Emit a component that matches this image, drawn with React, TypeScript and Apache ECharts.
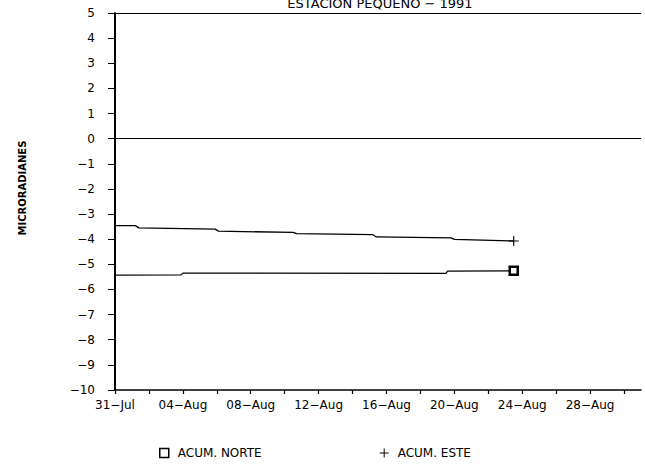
import React, { useEffect, useRef } from "react";
import * as echarts from "echarts";

// Days counted from 31 Jul 1991 (day 0) and accumulated tilt in microradians
const esteDays = [0, 1.2, 1.4, 5.9, 6.1, 10.5, 10.7, 15.2, 15.4, 19.8, 20.0, 23.5];
const esteValues = [-3.46, -3.46, -3.55, -3.6, -3.68, -3.73, -3.78, -3.82, -3.91, -3.95, -4.01, -4.07];

const norteDays = [0, 3.9, 4.0, 19.5, 19.6, 23.5];
const norteValues = [-5.43, -5.42, -5.35, -5.36, -5.27, -5.26];

const yTicks = { min: -10, max: 5, step: 1 };
const xTicks = { min: 0, max: 31, step: 2, labelEvery: 4 };

const titleText = "ESTACION PEQUENO \u2212 1991";
const yName = "MICRORADIANES";
const seriesNames = ["ACUM. NORTE", "ACUM. ESTE"];
const monthNames = ["Jan", "Feb", "Mar", "Apr", "May", "Jun", "Jul", "Aug", "Sep", "Oct", "Nov", "Dec"];

const FONT = "DejaVu Sans";
const PLUS =
  "path://M4,0 L5,0 L5,4 L9,4 L9,5 L5,5 L5,9 L4,9 L4,5 L0,5 L0,4 L4,4 Z";

function dayLabel(v: number): string {
  if (v % xTicks.labelEvery !== 0) return "";
  const d = new Date(Date.UTC(1991, 6, 31 + v));
  const dd = String(d.getUTCDate()).padStart(2, "0");
  return dd + "\u2212" + monthNames[d.getUTCMonth()];
}

function withEndMarker(days: number[], vals: number[], marker: any) {
  return days.map((d, i) =>
    i === days.length - 1 ? { value: [d, vals[i]], ...marker } : { value: [d, vals[i]] }
  );
}

export default function App() {
  const ref = useRef<HTMLDivElement>(null);

  useEffect(() => {
    if (!ref.current) return;
    const chart = echarts.init(ref.current, null, { renderer: "svg" });

    const norteData = withEndMarker(norteDays, norteValues, {
      symbol: "rect",
      symbolSize: 8,
      itemStyle: { color: "#fff", borderColor: "#000", borderWidth: 2.5 },
    });
    const esteData = withEndMarker(esteDays, esteValues, {
      symbol: PLUS,
      symbolSize: 10,
      itemStyle: { color: "#000" },
    });

    chart.setOption({
      animation: false,
      backgroundColor: "#fff",
      textStyle: { fontFamily: FONT, color: "#000" },
      grid: { left: 115, right: 4, top: 13, bottom: 75 },
      graphic: [
        {
          type: "text",
          x: 380,
          y: 3,
          style: {
            text: titleText,
            font: `13px "${FONT}"`,
            fill: "#000",
            textAlign: "center",
            textVerticalAlign: "middle",
          },
        },
        {
          type: "text",
          x: 22,
          y: 188,
          rotation: Math.PI / 2,
          style: {
            text: yName,
            font: `bold 10px "${FONT}"`,
            fill: "#000",
            textAlign: "center",
            textVerticalAlign: "middle",
          },
        },
      ],
      legend: {
        left: 154,
        top: 442,
        itemWidth: 9,
        itemHeight: 9,
        itemGap: 118,
        textStyle: { fontFamily: FONT, fontSize: 12, color: "#000", padding: [0, 0, 0, 4] },
        data: [
          {
            name: seriesNames[0],
            icon: "rect",
            itemStyle: { color: "#fff", borderColor: "#000", borderWidth: 1.5 },
          },
          { name: seriesNames[1], icon: PLUS, itemStyle: { color: "#000" } },
        ],
      },
      xAxis: {
        type: "value",
        min: xTicks.min,
        max: xTicks.max,
        interval: xTicks.step,
        axisLine: { onZero: false, lineStyle: { color: "#000", width: 1.5 } },
        axisTick: { show: true, length: 4, lineStyle: { color: "#000", width: 1.2 } },
        splitLine: { show: false },
        axisLabel: {
          margin: 9,
          fontFamily: FONT,
          fontSize: 12,
          color: "#000",
          showMaxLabel: false,
          formatter: (v: number) => dayLabel(v),
        },
      },
      yAxis: {
        type: "value",
        min: yTicks.min,
        max: yTicks.max,
        interval: yTicks.step,
        axisLine: { show: true, onZero: false, lineStyle: { color: "#000", width: 2 } },
        axisTick: { show: true, length: 7, lineStyle: { color: "#000", width: 1 } },
        splitLine: { show: false },
        axisLabel: {
          margin: 20,
          fontFamily: FONT,
          fontSize: 12,
          color: "#000",
          formatter: (v: number) => (v < 0 ? "\u2212" + Math.abs(v) : String(v)),
        },
      },
      series: [
        {
          name: seriesNames[0],
          type: "line",
          symbol: "none",
          showSymbol: true,
          lineStyle: { color: "#000", width: 1.2 },
          itemStyle: { color: "#000" },
          data: norteData,
          markLine: {
            silent: true,
            symbol: "none",
            label: { show: false },
            lineStyle: { color: "#000", width: 1.2, type: "solid" },
            data: [{ yAxis: 0 }, { yAxis: yTicks.max }],
          },
        },
        {
          name: seriesNames[1],
          type: "line",
          symbol: "none",
          showSymbol: true,
          lineStyle: { color: "#000", width: 1.3 },
          itemStyle: { color: "#000" },
          data: esteData,
        },
      ],
    });

    return () => chart.dispose();
  }, []);

  return <div ref={ref} style={{ width: 645, height: 465, position: "absolute", left: 0, top: 0 }} />;
}
